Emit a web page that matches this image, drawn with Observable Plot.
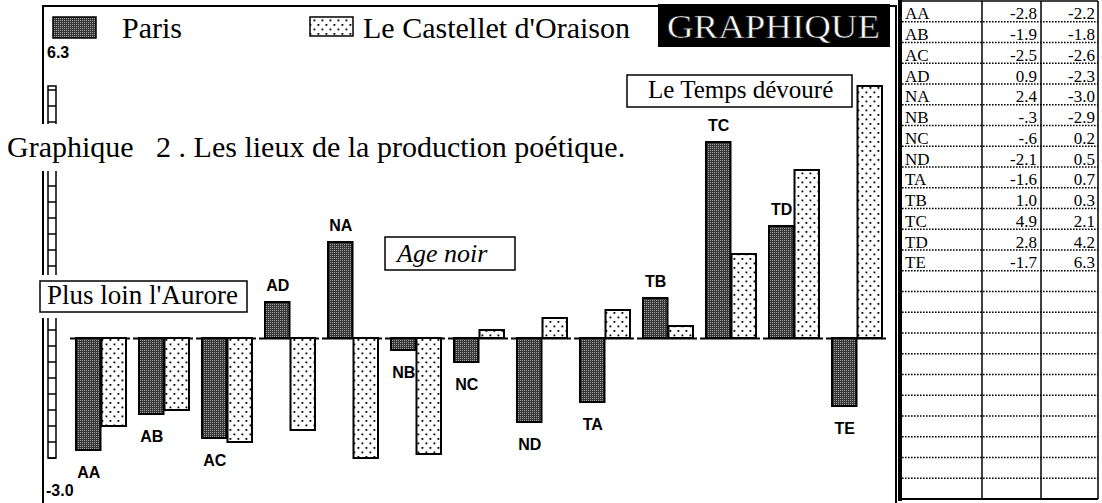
<!DOCTYPE html>
<html><head><meta charset="utf-8">
<script src="https://cdn.jsdelivr.net/npm/d3@7"></script>
<script src="https://cdn.jsdelivr.net/npm/@observablehq/plot@0.6"></script>
<style>html,body{margin:0;padding:0;background:#fff;} #chart svg{display:block}</style>
</head><body><div id="chart"></div>
<script>
// ---------- data ----------
const categories = ["AA","AB","AC","AD","NA","NB","NC","ND","TA","TB","TC","TD","TE"];
const parisValues = [-2.8,-1.9,-2.5,0.9,2.4,-0.3,-0.6,-2.1,-1.6,1.0,4.9,2.8,-1.7];
const castelletValues = [-2.2,-1.8,-2.6,-2.3,-3.0,-2.9,0.2,0.5,0.7,0.3,2.1,4.2,6.3];
const seriesNames = ["Paris", "Le Castellet d'Oraison"];
const axisLabels = ["6.3", "-3.0"];
const annotations = ["Plus loin l'Aurore", "Age noir", "Le Temps dévouré"];
const captionText = "Graphique\u00a0\u00a0 2 . Les lieux de la production poétique.";
const badgeText = "GRAPHIQUE";
const emptyTableRows = 11;

const data = categories.map((c, i) => ({cat: c, paris: parisValues[i], cast: castelletValues[i]}));

const SERIF = "'Liberation Serif','Times New Roman',serif";
const SANS = "'Liberation Sans',Arial,sans-serif";

const pi = 0.203;
const xr = [70, 889];
const step = (xr[1] - xr[0]) / (categories.length - pi);
const bw = step * (1 - pi);

const chart = Plot.plot({
  width: 1102, height: 503,
  marginTop: 0, marginRight: 0, marginBottom: 0, marginLeft: 0,
  style: {background: "white", overflow: "visible"},
  x: {type: "band", domain: categories, range: xr, paddingInner: pi, paddingOuter: 0, axis: null},
  y: {domain: [-3, 6.3], range: [458, 86], axis: null},
  marks: [
    Plot.tickY(data, {x: "cat", y: () => 0, stroke: "black", strokeWidth: 2, insetLeft: -6, insetRight: -4}),
    Plot.barY(data, {x: "cat", y: "paris", insetRight: bw / 2, fill: "url(#pat-paris)", stroke: "black", strokeWidth: 2}),
    Plot.barY(data, {x: "cat", y: "cast", insetLeft: bw / 2, fill: "url(#pat-cast)", stroke: "black", strokeWidth: 2}),
    Plot.text(data.filter(d => d.paris >= 0), {x: "cat", y: "paris", text: "cat", dx: -bw / 4, dy: -17, fontSize: 16, fontWeight: "bold", fontFamily: SANS, fill: "black"}),
    Plot.text(data.filter(d => d.paris < 0), {x: "cat", y: "paris", text: "cat", dx: -bw / 4, dy: 22, fontSize: 16, fontWeight: "bold", fontFamily: SANS, fill: "black"})
  ]
});
document.getElementById("chart").appendChild(chart);

const svg = d3.select(chart);
const yScale = chart.scale("y");
const y = v => yScale.apply(v);

// patterns
const defs = svg.append("defs");
const pp = defs.append("pattern").attr("id", "pat-paris").attr("patternUnits", "userSpaceOnUse").attr("width", 2).attr("height", 2);
pp.append("rect").attr("width", 2).attr("height", 2).attr("fill", "#383838");
pp.append("rect").attr("width", 1).attr("height", 1).attr("fill", "#a0a0a0");
const pc = defs.append("pattern").attr("id", "pat-cast").attr("patternUnits", "userSpaceOnUse").attr("width", 8).attr("height", 9);
pc.append("rect").attr("width", 8).attr("height", 9).attr("fill", "white");
pc.append("rect").attr("x", 1.5).attr("y", 1.5).attr("width", 1.8).attr("height", 1.8).attr("fill", "black");
pc.append("rect").attr("x", 5.5).attr("y", 6).attr("width", 1.8).attr("height", 1.8).attr("fill", "black");

// frame + ladder (under the bars)
const under = svg.insert("g", "g");
under.append("line").attr("x1", 43).attr("x2", 43).attr("y1", 6).attr("y2", 503).attr("stroke", "black").attr("stroke-width", 2);
under.append("line").attr("x1", 42).attr("x2", 897).attr("y1", 6).attr("y2", 6).attr("stroke", "black").attr("stroke-width", 2);
under.append("line").attr("x1", 896).attr("x2", 896).attr("y1", 6).attr("y2", 503).attr("stroke", "black").attr("stroke-width", 2);
const ladTop = y(6.3), ladBot = y(-3);
under.append("rect").attr("x", 48).attr("y", ladTop).attr("width", 8).attr("height", ladBot - ladTop)
  .attr("fill", "white").attr("stroke", "black").attr("stroke-width", 1.5);
const rungs = d3.range(-3, 6.3, 0.4);
under.selectAll("line.rung").data(rungs).join("line").attr("class", "rung")
  .attr("x1", 48).attr("x2", 56).attr("y1", d => y(d)).attr("y2", d => y(d))
  .attr("stroke", "black").attr("stroke-width", 1.5);

// overlay group with left-anchored text
const ov = svg.append("g").attr("text-anchor", "start");

// axis end labels
ov.append("text").attr("x", 47).attr("y", 58).text(axisLabels[0])
  .attr("font-family", SANS).attr("font-size", 16).attr("font-weight", "bold");
ov.append("text").attr("x", 46).attr("y", 496).text(axisLabels[1])
  .attr("font-family", SANS).attr("font-size", 16).attr("font-weight", "bold");

// legend
ov.append("rect").attr("x", 53).attr("y", 17).attr("width", 43).attr("height", 21)
  .attr("fill", "url(#pat-paris)").attr("stroke", "black").attr("stroke-width", 1.5);
ov.append("text").attr("x", 122).attr("y", 38).text(seriesNames[0])
  .attr("font-family", SERIF).attr("font-size", 30);
ov.append("rect").attr("x", 310).attr("y", 17).attr("width", 43).attr("height", 19)
  .attr("fill", "url(#pat-cast)").attr("stroke", "black").attr("stroke-width", 1.5);
ov.append("text").attr("x", 363).attr("y", 38).text(seriesNames[1])
  .attr("font-family", SERIF).attr("font-size", 30);

// GRAPHIQUE badge
ov.append("rect").attr("x", 658).attr("y", 4).attr("width", 232).attr("height", 43).attr("fill", "black");
ov.append("text").attr("x", 667).attr("y", 38).text(badgeText)
  .attr("font-family", SERIF).attr("font-size", 33).attr("fill", "white")
  .attr("stroke", "#222").attr("stroke-width", 0.6)
  .attr("textLength", 213).attr("lengthAdjust", "spacingAndGlyphs");

// caption
ov.append("rect").attr("x", 0).attr("y", 124).attr("width", 640).attr("height", 47).attr("fill", "white");
ov.append("text").attr("x", 7).attr("y", 157).text(captionText)
  .attr("font-family", SERIF).attr("font-size", 30).style("white-space", "pre");

// boxed annotations
function boxed(txt, bx, by, bw2, bh, tx, ty, fs, italic, pad) {
  ov.append("rect").attr("x", bx - pad).attr("y", by - pad).attr("width", bw2 + 2 * pad).attr("height", bh + 2 * pad).attr("fill", "white");
  ov.append("rect").attr("x", bx).attr("y", by).attr("width", bw2).attr("height", bh)
    .attr("fill", "white").attr("stroke", "black").attr("stroke-width", 1.5);
  ov.append("text").attr("x", tx).attr("y", ty).text(txt)
    .attr("font-family", SERIF).attr("font-size", fs).attr("font-style", italic ? "italic" : "normal");
}
boxed(annotations[0], 40, 281, 207, 31, 47, 304, 27, false, 6);
boxed(annotations[1], 385, 237, 130, 33, 397, 262, 26, true, 0);
boxed(annotations[2], 627, 75, 225, 32, 648, 98, 25, false, 0);

// table
const tX = [902, 982, 1041, 1098];
const tTop = 1, rowH = 20.75;
const nRows = categories.length + emptyTableRows;
const fmt = v => {
  const a = Math.abs(v);
  let s = a.toFixed(1);
  if (a < 1 && v < 0) s = s.slice(1);
  return (v < 0 ? "-" : "") + s;
};
const tg = ov.append("g");
tg.append("rect").attr("x", 898).attr("y", 0).attr("width", 204).attr("height", 503).attr("fill", "white");
for (let i = 1; i <= nRows; i++) {
  const yy = tTop + i * rowH;
  tg.append("line").attr("x1", tX[0]).attr("x2", tX[3]).attr("y1", yy).attr("y2", yy)
    .attr("stroke", "black").attr("stroke-width", i === nRows ? 2 : 1.6)
    .attr("stroke-dasharray", i === nRows ? null : "1.6,1.4");
}
tg.append("line").attr("x1", tX[0]).attr("x2", tX[3]).attr("y1", tTop).attr("y2", tTop).attr("stroke", "black").attr("stroke-width", 1.5);
tg.append("line").attr("x1", 900).attr("x2", 900).attr("y1", 0).attr("y2", tTop + nRows * rowH + 2).attr("stroke", "black").attr("stroke-width", 4);
[tX[1], tX[2], tX[3]].forEach(x => tg.append("line").attr("x1", x).attr("x2", x).attr("y1", tTop).attr("y2", tTop + nRows * rowH)
  .attr("stroke", "black").attr("stroke-width", 1.5));
categories.forEach((c, i) => {
  const by = tTop + (i + 1) * rowH - 2.5;
  tg.append("text").attr("x", tX[0] + 3).attr("y", by).text(c).attr("font-family", SERIF).attr("font-size", 17);
  tg.append("text").attr("x", tX[2] - 4).attr("y", by).attr("text-anchor", "end").text(fmt(parisValues[i])).attr("font-family", SERIF).attr("font-size", 17);
  tg.append("text").attr("x", tX[3] - 3).attr("y", by).attr("text-anchor", "end").text(fmt(castelletValues[i])).attr("font-family", SERIF).attr("font-size", 17);
});
</script>
</body></html>
